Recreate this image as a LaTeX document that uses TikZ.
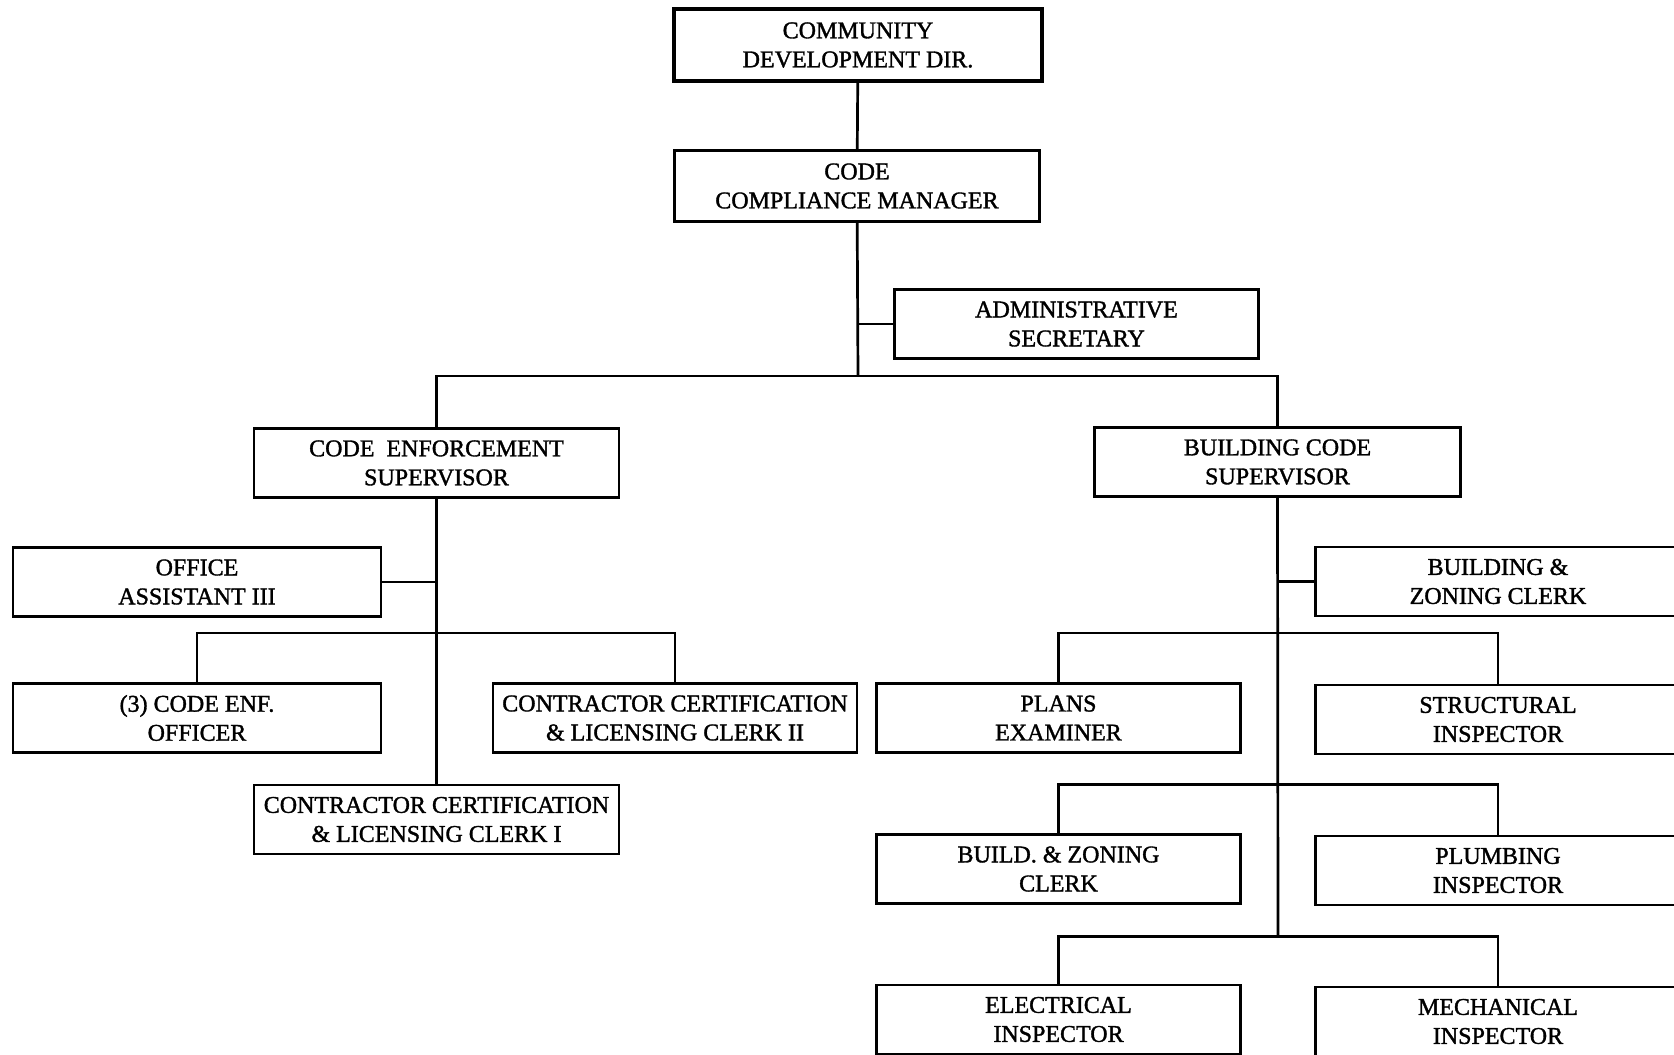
\documentclass[tikz,border=0pt]{standalone}
\usepackage{fontspec}
\setmainfont{Liberation Serif}
\newfontfamily\chartfont[FakeBold=1.4]{Liberation Serif}

\tikzset{
  post/.style={draw, line width=2.7pt, minimum width=365pt, minimum height=69pt,
    inner sep=0pt, align=center, font=\chartfont\fontsize{24}{29}\selectfont},
  link/.style={line width=2.7pt}
}

\begin{document}
\begin{tikzpicture}[x=1pt, y=-1pt]
    \useasboundingbox (0,0) rectangle (1674,1055);
    \clip (0,0) rectangle (1674,1055);

    % top of the chart
    \node[post, line width=3.6pt, minimum width=368pt, minimum height=72pt] (dir) at (858,45) {COMMUNITY\\DEVELOPMENT DIR.};
    \node[post, minimum height=71pt] (mgr) at (857,186) {CODE\\COMPLIANCE MANAGER};
    \node[post, minimum width=364pt] (admin) at (1076.5,324) {ADMINISTRATIVE\\SECRETARY};
    \coordinate (hub) at (858,376);

    \node[post] (ces) at (436.5,463) {CODE\enspace ENFORCEMENT\\SUPERVISOR};
    \node[post, minimum width=366pt] (bcs) at (1277.5,462) {BUILDING CODE\\SUPERVISOR};

    \draw[link] (dir) -- (mgr);
    \draw[link] (mgr) -- (hub);
    \draw[link] (admin.west) -- (admin.west -| hub);
    \draw[link] (ces.north) |- (hub) -| (bcs.north);

    % code enforcement side
    \begin{scope}
        \node[post, minimum width=368pt] (oa) at (197,582) {OFFICE\\ASSISTANT III};
        \node[post, minimum width=368pt] (cef) at (197,718) {(3) CODE ENF.\\OFFICER};
        \node[post, minimum width=364pt] (cc2) at (675,718) {CONTRACTOR CERTIFICATION\\\& LICENSING CLERK II};
        \node[post] (cc1) at (436.5,819.5) {CONTRACTOR CERTIFICATION\\\& LICENSING CLERK I};
        \coordinate (lhub) at (436.5,633);

        \draw[link] (ces) -- (cc1);
        \draw[link] (oa.east) -- (oa.east -| ces);
        \draw[link] (cef.north) |- (lhub) -| (cc2.north);
    \end{scope}

    % building code side
    \begin{scope}
        \node[post] (bz) at (1498,581.5) {BUILDING \&\\ZONING CLERK};
        \node[post, minimum width=364pt] (pe) at (1058.5,718) {PLANS\\EXAMINER};
        \node[post] (si) at (1498,719.5) {STRUCTURAL\\INSPECTOR};
        \node[post, minimum width=364pt] (bzc) at (1058.5,869) {BUILD. \& ZONING\\CLERK};
        \node[post] (pi) at (1498,870.5) {PLUMBING\\INSPECTOR};
        \node[post, minimum width=364pt] (ei) at (1058.5,1019.5) {ELECTRICAL\\INSPECTOR};
        \node[post] (mi) at (1498,1021.5) {MECHANICAL\\INSPECTOR};
        \coordinate (r1) at (1278,633);
        \coordinate (r2) at (1278,784.5);
        \coordinate (r3) at (1278,936.5);

        \draw[link] (bcs.south) -- (r3);
        \draw[link] (bz.west) -- (bz.west -| bcs);
        \draw[link] (pe.north) |- (r1) -| (si.north);
        \draw[link] (bzc.north) |- (r2) -| (pi.north);
        \draw[link] (ei.north) |- (r3) -| (mi.north);
    \end{scope}
\end{tikzpicture}
\end{document}
